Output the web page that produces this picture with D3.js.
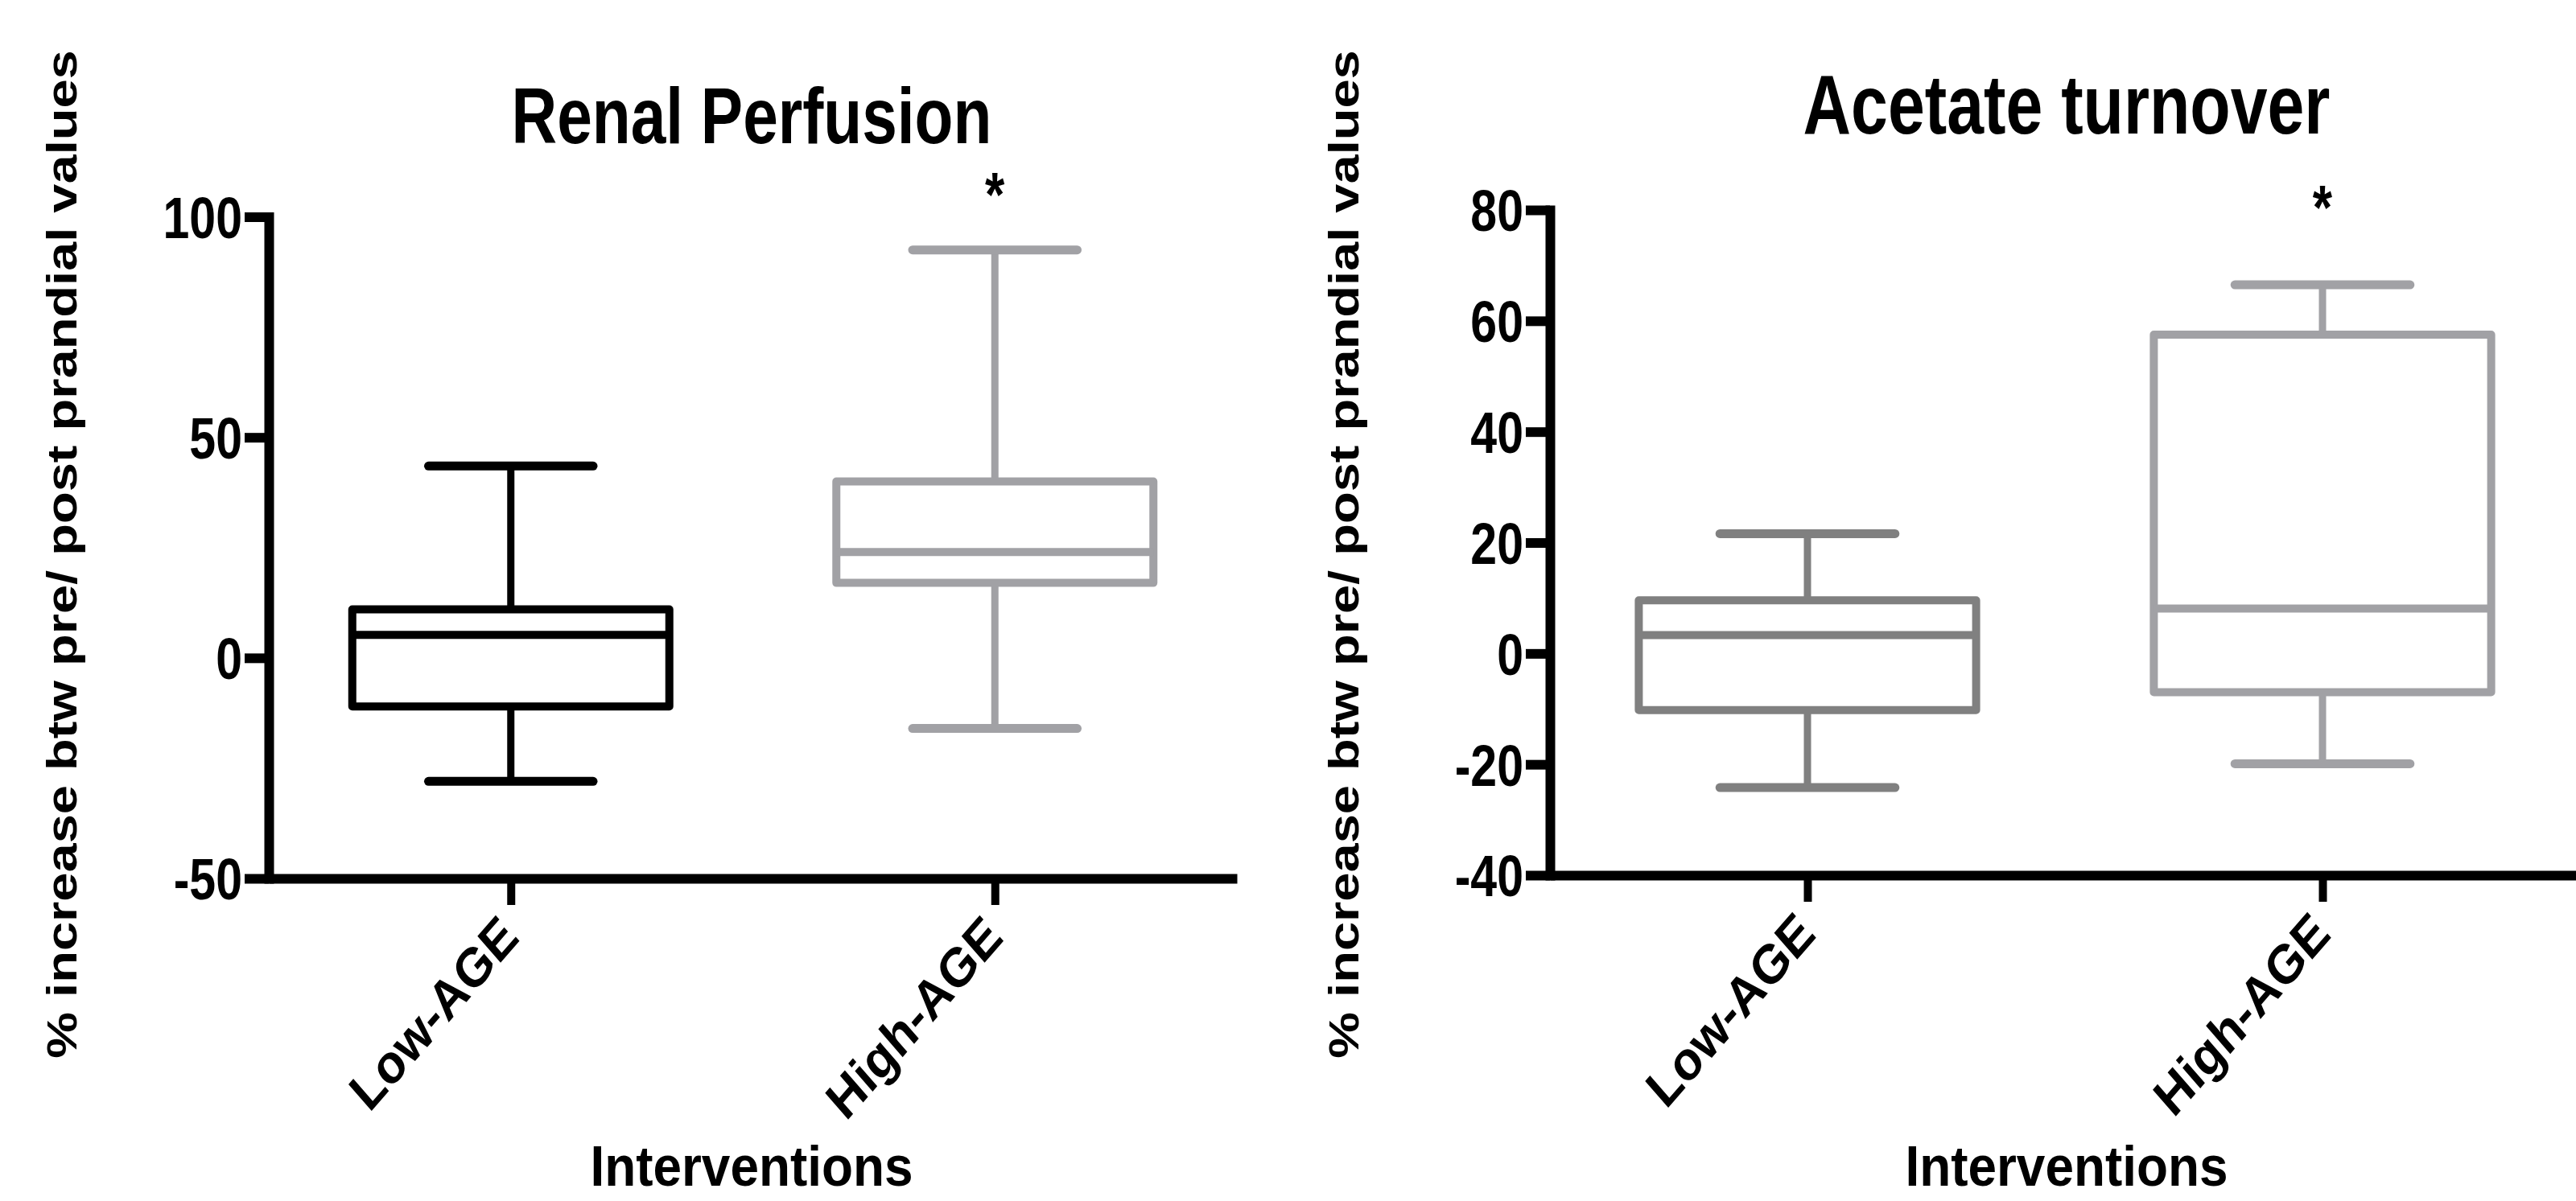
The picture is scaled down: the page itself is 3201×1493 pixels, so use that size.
<!DOCTYPE html>
<html>
<head>
<meta charset="utf-8">
<script src="https://cdn.jsdelivr.net/npm/d3@7"></script>
<style>
  html, body { margin: 0; padding: 0; background: #fff; }
  svg { display: block; font-family: "Liberation Sans", Arial, sans-serif; font-weight: bold; }
</style>
</head>
<body>
<svg id="chart" width="3201" height="1493"></svg>
<script>
// data
var groups = [ 'Low-AGE', 'High-AGE' ];

var renalMin = [ -28, -16 ],
    renalQ1 = [ -11, 17 ],
    renalMed = [ 5.2, 24 ],
    renalQ3 = [ 11, 40 ],
    renalMax = [ 43.5, 92.5 ],
    renalTicks = [ -50, 0, 50, 100 ];

var acetMin = [ -24.2, -19.9 ],
    acetQ1 = [ -10.2, -7 ],
    acetMed = [ 3.3, 8.1 ],
    acetQ3 = [ 9.6, 57.5 ],
    acetMax = [ 21.6, 66.5 ],
    acetTicks = [ -40, -20, 0, 20, 40, 60, 80 ];

var yTitle = '% increase btw pre/ post prandial values';
var xTitle = 'Interventions';

var svg = d3.select( '#chart' );
var SQ = 0.8; // the figure is squeezed horizontally

var drawPanel = function ( opt ) {
    var x = d3.scalePoint()
        .domain( groups )
        .range( opt.xRange )
        .padding( 0.5 );
    var y = d3.scaleLinear()
        .domain( opt.yDomain )
        .range( opt.yRange );
    var step = x.step(),
        boxW = step * 0.655,
        capW = step * 0.34,
        x0 = opt.xRange[ 0 ],
        yBase = opt.yRange[ 0 ];

    var g = svg.append( 'g' );

    // boxes
    groups.forEach( function ( grp, i ) {
        var cx = x( grp ),
            col = opt.colors[ i ],
            bg = g.append( 'g' )
                .attr( 'stroke', col )
                .attr( 'fill', 'none' );
        bg.append( 'line' )
            .attr( 'x1', cx ).attr( 'x2', cx )
            .attr( 'y1', y( opt.max[ i ] ) ).attr( 'y2', y( opt.q3[ i ] ) )
            .attr( 'stroke-width', 9 );
        bg.append( 'line' )
            .attr( 'x1', cx ).attr( 'x2', cx )
            .attr( 'y1', y( opt.q1[ i ] ) ).attr( 'y2', y( opt.min[ i ] ) )
            .attr( 'stroke-width', 9 );
        [ opt.max[ i ], opt.min[ i ] ].forEach( function ( v ) {
            bg.append( 'line' )
                .attr( 'x1', cx - capW / 2 ).attr( 'x2', cx + capW / 2 )
                .attr( 'y1', y( v ) ).attr( 'y2', y( v ) )
                .attr( 'stroke-width', 11 )
                .attr( 'stroke-linecap', 'round' );
        } );
        bg.append( 'rect' )
            .attr( 'x', cx - boxW / 2 )
            .attr( 'y', y( opt.q3[ i ] ) )
            .attr( 'width', boxW )
            .attr( 'height', y( opt.q1[ i ] ) - y( opt.q3[ i ] ) )
            .attr( 'fill', '#fff' )
            .attr( 'stroke-width', 10 )
            .attr( 'stroke-linejoin', 'round' );
        bg.append( 'line' )
            .attr( 'x1', cx - boxW / 2 ).attr( 'x2', cx + boxW / 2 )
            .attr( 'y1', y( opt.med[ i ] ) ).attr( 'y2', y( opt.med[ i ] ) )
            .attr( 'stroke-width', 10 );
    } );

    // y axis
    var yAxis = g.append( 'g' )
        .attr( 'transform', 'translate(' + x0 + ',0)' )
        .call( d3.axisLeft( y )
            .tickValues( opt.ticks )
            .tickFormat( function ( d ) { return String( d ); } )
            .tickSize( 30 )
            .tickSizeOuter( 0 ) );
    yAxis.select( '.domain' )
        .attr( 'stroke', '#000' )
        .attr( 'stroke-width', 12 )
        .attr( 'stroke-linecap', 'square' );
    yAxis.selectAll( '.tick line' )
        .attr( 'stroke', '#000' )
        .attr( 'stroke-width', 12 );
    yAxis.selectAll( '.tick text' )
        .attr( 'x', 0 )
        .attr( 'dy', '0.36em' )
        .attr( 'transform', 'translate(-33,0) scale(0.82,1)' )
        .attr( 'font-size', 72 )
        .attr( 'font-family', '"Liberation Sans", Arial, sans-serif' )
        .attr( 'font-weight', 'bold' )
        .attr( 'fill', '#000' );

    // x axis
    var xAxis = g.append( 'g' )
        .attr( 'transform', 'translate(0,' + yBase + ')' )
        .call( d3.axisBottom( x ).tickSize( 33 ).tickSizeOuter( 0 ) );
    xAxis.select( '.domain' )
        .attr( 'stroke', '#000' )
        .attr( 'stroke-width', 12 );
    xAxis.selectAll( '.tick line' )
        .attr( 'stroke', '#000' )
        .attr( 'stroke-width', 10 );
    xAxis.selectAll( '.tick text' )
        .attr( 'x', 0 ).attr( 'y', 0 ).attr( 'dy', 0 )
        .attr( 'text-anchor', 'end' )
        .attr( 'transform', 'translate(12,76) scale(0.87,1) rotate(-45)' )
        .attr( 'font-size', 68 )
        .attr( 'font-family', '"Liberation Sans", Arial, sans-serif' )
        .attr( 'font-weight', 'bold' )
        .attr( 'fill', '#000' );

    // significance mark
    g.append( 'text' )
        .attr( 'text-anchor', 'middle' )
        .attr( 'transform', 'translate(' + x( groups[ 1 ] ) + ',' + opt.starY + ') scale(' + SQ + ',1)' )
        .attr( 'font-size', 78 )
        .text( '*' );

    // titles
    g.append( 'text' )
        .attr( 'text-anchor', 'middle' )
        .attr( 'transform', 'translate(' + opt.titleX + ',' + opt.titleY + ') scale(' + SQ + ',1)' )
        .attr( 'font-size', opt.titleSize )
        .text( opt.title );
    g.append( 'text' )
        .attr( 'text-anchor', 'middle' )
        .attr( 'transform', 'translate(' + opt.titleX + ',1474) scale(0.9,1)' )
        .attr( 'font-size', 71 )
        .text( xTitle );
    g.append( 'text' )
        .attr( 'text-anchor', 'middle' )
        .attr( 'transform', 'translate(' + opt.yTitleX + ',689) scale(' + SQ + ',1) rotate(-90)' )
        .attr( 'font-size', 65 )
        .text( yTitle );
};

drawPanel( {
    title: 'Renal Perfusion',
    titleSize: 98,
    xRange: [ 334, 1537 ],
    yDomain: [ -50, 100 ],
    yRange: [ 1092, 269.5 ],
    ticks: renalTicks,
    min: renalMin, q1: renalQ1, med: renalMed, q3: renalQ3, max: renalMax,
    colors: [ '#000000', '#a1a1a5' ],
    titleX: 934, titleY: 178,
    starY: 269,
    yTitleX: 95
} );

drawPanel( {
    title: 'Acetate turnover',
    titleSize: 103,
    xRange: [ 1926, 3206 ],
    yDomain: [ -40, 80 ],
    yRange: [ 1088, 261 ],
    ticks: acetTicks,
    min: acetMin, q1: acetQ1, med: acetMed, q3: acetQ3, max: acetMax,
    colors: [ '#808080', '#a1a1a5' ],
    titleX: 2568, titleY: 166,
    starY: 285,
    yTitleX: 1688
} );
</script>
</body>
</html>
